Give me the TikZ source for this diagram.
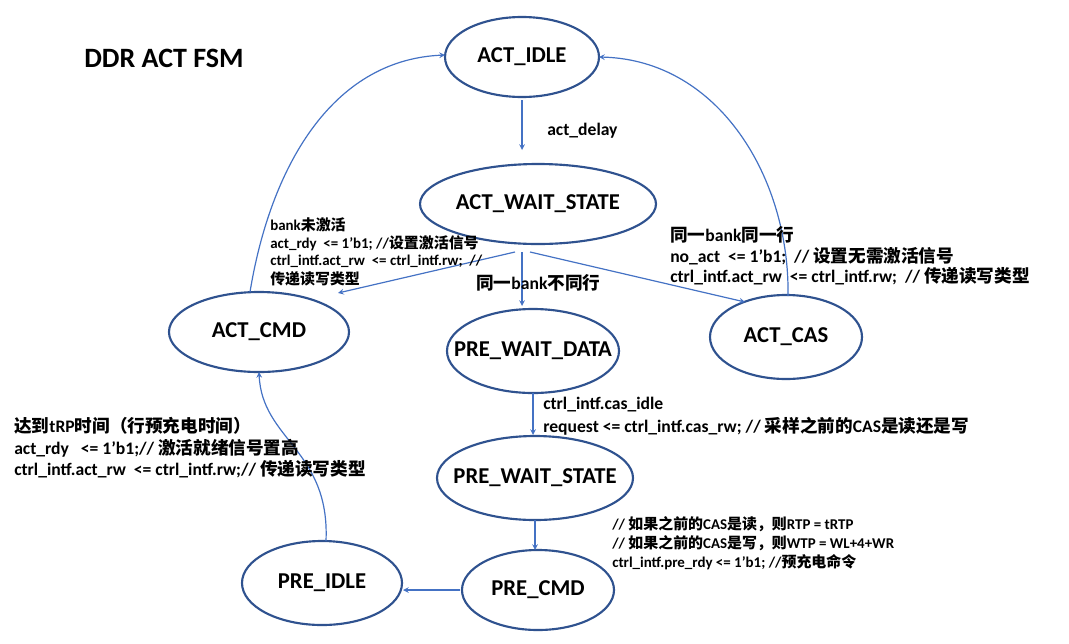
\documentclass[tikz,border=0pt]{standalone}
\usepackage{fontspec}
\setmainfont{Carlito}
\newfontfamily\cjk{Noto Sans CJK SC}
\newcommand{\zh}[1]{{\cjk #1}}
\begin{document}
\begin{tikzpicture}[x=0.75pt,y=-0.75pt,
  st/.style={draw=blue!45!black!80, line width=1.6pt, ellipse-ish},
  ellipse-ish/.style={},
  lab/.style={font=\bfseries\fontsize{17}{20}\selectfont},
  arr/.style={draw=blue!60!cyan!70!black, line width=0.8pt, -stealth},
  sm/.style={anchor=west, font=\bfseries\fontsize{11.2}{13}\selectfont, inner sep=0},
  md/.style={anchor=west, font=\bfseries\fontsize{13.2}{15}\selectfont, inner sep=0}]
\useasboundingbox (0,0) rectangle (1069,643);
\definecolor{ec}{HTML}{2F528F}\definecolor{lc}{HTML}{4472C4}
\tikzset{arr/.style={draw=lc, line width=0.9pt, -stealth}}
\newcommand{\st}[5]{\draw[ec,line width=1.6pt] (#2,#3) ellipse [x radius=#4*0.75pt, y radius=#5*0.75pt];
  \node[lab] (#1) at (#2,#3) {\detokenize{#1}};}
\st{ACT_IDLE}{522}{57}{77}{40}
\st{ACT_WAIT_STATE}{538}{204}{118}{40}
\st{ACT_CMD}{259}{332}{90}{40}
\st{PRE_WAIT_DATA}{533}{351}{86}{42}
\st{ACT_CAS}{786}{337}{76}{42}
\st{PRE_WAIT_STATE}{535}{478}{98}{42}
\st{PRE_CMD}{538}{590}{76}{40}
\st{PRE_IDLE}{322}{583}{80}{42}
\node[anchor=west,font=\bfseries\fontsize{21}{24}\selectfont,inner sep=0] (title) at (84,58) {DDR ACT FSM};
\coordinate (a1) at (522,100); \coordinate (a2) at (522,150);
\draw[arr] (a1) -- (a2);
\node[md] (ad) at (547,131) {act\_delay};
\coordinate (w1) at (515,252); \coordinate (c1) at (338,293);
\draw[arr] (w1) -- (c1);
\coordinate (w2) at (522,252); \coordinate (d1) at (522,306);
\draw[arr] (w2) -- (d1);
\coordinate (w3) at (530,252); \coordinate (s1) at (745,302);
\draw[arr] (w3) -- (s1);
\coordinate (s2) at (788,296); \coordinate (i1) at (599,57);
\draw[arr] (s2) .. controls (790,180) and (720,60) .. (i1);
\coordinate (c2) at (250,292); \coordinate (i2) at (445,55);
\draw[arr] (c2) .. controls (270,170) and (330,60) .. (i2);
\coordinate (d2) at (533,393); \coordinate (p1) at (533,435);
\draw[arr] (d2) -- (p1);
\coordinate (p2) at (535,520); \coordinate (m1) at (535,550);
\draw[arr] (p2) -- (m1);
\coordinate (m2) at (460,590); \coordinate (e1) at (403,590);
\draw[arr] (m2) -- (e1);
\coordinate (e2) at (326,541); \coordinate (c3) at (259,372);
\draw[arr] (e2) .. controls (330,450) and (262,440) .. (c3);
% texts
\node[sm] (t1) at (270,225) {bank\zh{未激活}};
\node[sm] (t2) at (270,243) {act\_rdy \ <= 1'b1; //\zh{设置激活信号}};
\node[sm] (t3) at (270,261) {ctrl\_intf.act\_rw \ <= ctrl\_intf.rw; \ //};
\node[sm] (t4) at (270,279) {\zh{传递读写类型}};
\node[md] (t5) at (476,283) {\zh{同一}bank\zh{不同行}};
\node[md] (t6) at (670,235) {\zh{同一}bank\zh{同一行}};
\node[md] (t7) at (670,256) {no\_act \ <= 1'b1; \ // \zh{设置无需激活信号}};
\node[md] (t8) at (670,276) {ctrl\_intf.act\_rw \ <= ctrl\_intf.rw; \ // \zh{传递读写类型}};
\node[md] (t9) at (543,405) {ctrl\_intf.cas\_idle};
\node[md] (t10) at (543,426) {request <= ctrl\_intf.cas\_rw; // \zh{采样之前的}CAS\zh{是读还是写}};
\node[md] (t11) at (14,426) {\zh{达到}tRP\zh{时间（行预充电时间）}};
\node[md] (t12) at (14,448) {act\_rdy \ \ <= 1'b1;// \zh{激活就绪信号置高}};
\node[md] (t13) at (14,469) {ctrl\_intf.act\_rw \ <= ctrl\_intf.rw;// \zh{传递读写类型}};
\node[sm] (t14) at (612,524) {// \zh{如果之前的}CAS\zh{是读，则}RTP = tRTP};
\node[sm] (t15) at (612,543) {// \zh{如果之前的}CAS\zh{是写，则}WTP = WL+4+WR};
\node[sm] (t16) at (612,562) {ctrl\_intf.pre\_rdy <= 1'b1; //\zh{预充电命令}};
\end{tikzpicture}
\end{document}
